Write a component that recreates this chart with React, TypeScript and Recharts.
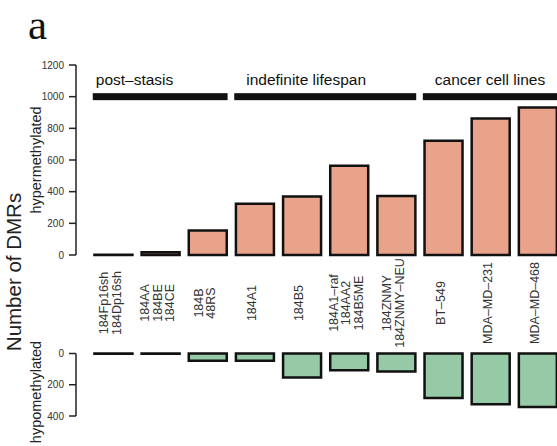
import { BarChart, Bar, XAxis, YAxis, ReferenceArea } from "recharts";

const categories = [
  "184Fp16sh\n184Dp16sh",
  "184AA\n184BE\n184CE",
  "184B\n48RS",
  "184A1",
  "184B5",
  "184A1–raf\n184AA2\n184B5ME",
  "184ZNMY\n184ZNMY–NEU",
  "BT–549",
  "MDA–MD–231",
  "MDA–MD–468",
];
const hyper = [2, 18, 154, 323, 369, 563, 373, 721, 862, 932];
const hypo = [2, 2, 47, 47, 154, 107, 115, 284, 324, 342];
const hyperTicks = [0, 200, 400, 600, 800, 1000, 1200];
const hypoTicks = [0, 200, 400];

const groupNames = ["post–stasis", "indefinite lifespan", "cancer cell lines"];
const groupFirst = [0, 3, 7];
const groupLast = [2, 6, 9];
const groupLevel = 1000;

// styling only
const groupLabelInset = [3, 12, 12];
const BAR = 38;
const BAND = (561 - 76 - 13.45) / categories.length;
const SHRINK = (BAND - BAR) / 2 - 1.25;

const topData = categories.map((name, i) => ({ name, value: hyper[i] }));
const bottomData = categories.map((name, i) => ({ name, value: hypo[i] }));

const axisColor = "#222";
const font = "'Liberation Sans', Arial, Helvetica, sans-serif";

const CategoryTick = (props: any) => {
  const { x, payload } = props;
  const lines = String(payload.value).split("\n");
  return (
    <g transform={`translate(${x - 3},45) rotate(-90)`}>
      {lines.map((l: string, i: number) => (
        <text
          key={i}
          x={0}
          y={(i - (lines.length - 1) / 2) * 12.5 + 4.5}
          textAnchor="middle"
          fontSize={12.5}
          fontFamily={font}
          fill="#333"
        >
          {l}
        </text>
      ))}
    </g>
  );
};

const groupShape = (idx: number) => (p: any) => (
  <g>
    <rect x={p.x + SHRINK} y={p.y} width={p.width - 2 * SHRINK} height={p.height} fill="#111" />
    <text
      x={p.x + SHRINK + groupLabelInset[idx]}
      y={p.y - 8}
      fontSize={15.5}
      fontFamily={font}
      fill="#111"
    >
      {groupNames[idx]}
    </text>
  </g>
);

const App = () => {
  return (
    <div
      style={{
        position: "absolute",
        left: 0,
        top: 0,
        width: 557,
        height: 446,
        overflow: "hidden",
        background: "#fff",
        fontFamily: font,
      }}
    >
      <div style={{ position: "absolute", left: 0, top: 0 }}>
        <BarChart width={561} height={262} data={topData} margin={{ top: 65, right: 0, bottom: 7, left: 0 }}>
          <XAxis dataKey="name" hide padding={{ left: 13.45, right: 0 }} />
          <YAxis
            width={76}
            domain={[0, 1200]}
            ticks={hyperTicks}
            interval={0}
            tickSize={7}
            tickMargin={5}
            stroke={axisColor}
            strokeWidth={1.5}
            tick={{ fontSize: 10, fill: "#333", fontFamily: font }}
          />
          {groupNames.map((g, i) => (
            <ReferenceArea
              key={g}
              x1={categories[groupFirst[i]]}
              x2={categories[groupLast[i]]}
              y1={groupLevel - 22}
              y2={groupLevel + 22}
              ifOverflow="visible"
              shape={groupShape(i)}
            />
          ))}
          <Bar
            dataKey="value"
            barSize={BAR}
            fill="#E9A38A"
            stroke="#111"
            strokeWidth={2.5}
            isAnimationActive={false}
          />
        </BarChart>
      </div>
      <div style={{ position: "absolute", left: 0, top: 258 }}>
        <BarChart width={561} height={188} data={bottomData} margin={{ top: 0, right: 0, bottom: 30, left: 0 }}>
          <XAxis
            dataKey="name"
            orientation="top"
            height={95.5}
            axisLine={false}
            tickLine={false}
            interval={0}
            padding={{ left: 13.45, right: 0 }}
            tick={<CategoryTick />}
          />
          <YAxis
            width={76}
            reversed
            domain={[0, 400]}
            ticks={hypoTicks}
            interval={0}
            tickSize={7}
            tickMargin={5}
            stroke={axisColor}
            strokeWidth={1.5}
            tick={{ fontSize: 10, fill: "#333", fontFamily: font }}
          />
          <Bar
            dataKey="value"
            barSize={BAR}
            fill="#96CAA6"
            stroke="#111"
            strokeWidth={2.5}
            isAnimationActive={false}
          />
        </BarChart>
      </div>
      <svg width={557} height={446} style={{ position: "absolute", left: 0, top: 0, pointerEvents: "none" }}>
        <text x={28} y={39} fontSize={43} fontFamily="'Liberation Serif', 'Times New Roman', serif" fill="#111">
          a
        </text>
        <text transform="translate(21,272) rotate(-90)" textAnchor="middle" fontSize={20.5} fontFamily={font} fill="#222">
          Number of DMRs
        </text>
        <text transform="translate(41,160) rotate(-90)" textAnchor="middle" fontSize={14.5} fontFamily={font} fill="#222">
          hypermethylated
        </text>
        <text transform="translate(41,392) rotate(-90)" textAnchor="middle" fontSize={14.5} fontFamily={font} fill="#222">
          hypomethylated
        </text>
      </svg>
    </div>
  );
};

export default App;
